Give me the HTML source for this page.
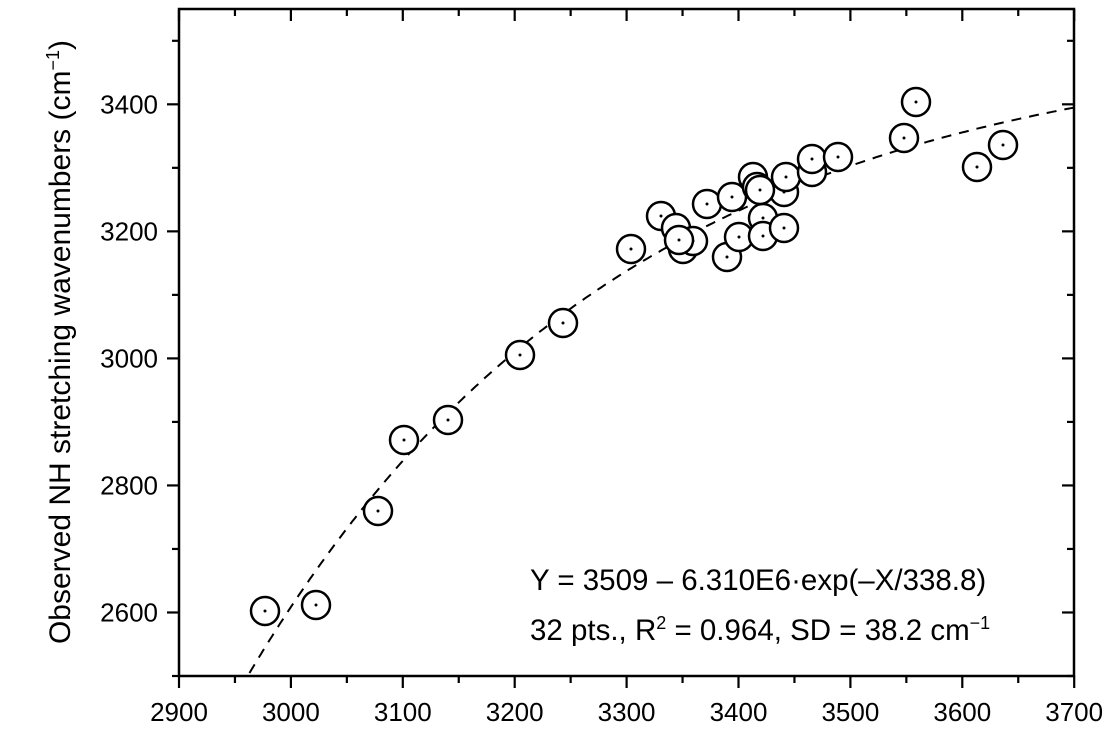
<!DOCTYPE html>
<html><head><meta charset="utf-8"><style>
html,body{margin:0;padding:0;background:#fff;}
svg{display:block;font-family:"Liberation Sans",Arial,sans-serif;}
</style></head><body>
<svg id="s" width="1114" height="735" viewBox="0 0 1114 735">
<rect x="179" y="9" width="895" height="667" fill="none" stroke="#000" stroke-width="2.5"/>
<g id="ticks" stroke="#000" stroke-width="2.2"></g>
<g id="lbl" font-size="26" fill="#000"></g>
<path id="fit" fill="none" stroke="#000" stroke-width="2" stroke-dasharray="10,8"/>
<g id="pts"></g>
<text x="0" y="0" font-size="30" transform="translate(70,342) rotate(-90)" text-anchor="middle">Observed NH stretching wavenumbers (cm<tspan dy="-11" font-size="18">−1</tspan><tspan dy="11">)</tspan></text>
<text x="530" y="590" font-size="29.5">Y = 3509 – 6.310E6·exp(–X/338.8)</text>
<text x="530" y="640" font-size="29.5">32 pts., R<tspan dy="-11" font-size="18">2</tspan><tspan dy="11"> = 0.964, SD = 38.2 cm</tspan><tspan dy="-11" font-size="18">−1</tspan></text>
</svg>
<script>
var NS="http://www.w3.org/2000/svg";
function px(x){return 179+(x-2900)*1.119;}
function py(y){return 676-(y-2500)*0.6352;}
function el(t,a,p){var e=document.createElementNS(NS,t);for(var k in a)e.setAttribute(k,a[k]);p.appendChild(e);return e;}
var T=document.getElementById('ticks'),L=document.getElementById('lbl');
for(var x=2900;x<=3700;x+=50){var X=px(x),maj=x%100==0;
 el('line',{x1:X,y1:676,x2:X,y2:676+(maj?12:7)},T);
 el('line',{x1:X,y1:9,x2:X,y2:9+(maj?12:7)},T);
 if(maj){var t=el('text',{x:X,y:721,'text-anchor':'middle'},L);t.textContent=x;}}
for(var y=2500;y<=3550;y+=100){var Y=py(y),maj=y%200==0;
 el('line',{x1:179,y1:Y,x2:179-(maj?12:7),y2:Y},T);
 el('line',{x1:1074,y1:Y,x2:1074-(maj?12:7),y2:Y},T);
 if(maj&&y>=2600&&y<=3400){var t=el('text',{x:158,y:Y+9,'text-anchor':'end'},L);t.textContent=y;}}
var d="";for(var x=2959;x<=3700;x+=2){var yy=3509-6.31e6*Math.exp(-x/338.8);if(yy<2500)continue;d+=(d?"L":"M")+px(x).toFixed(1)+","+py(yy).toFixed(1);}
document.getElementById('fit').setAttribute('d',d);
var P=[[265,611],[316,605],[378,511],[404,440],[448,420],[520,355],[563,323],[631,249],[661,216],[676,228],[683,249],[693,241],[707,204],[732,197],[727,257],[739,237],[753,177],[757,187],[763,218],[763,236],[784,228],[784,192],[786,177],[812,172],[812,159],[838,157],[904,138],[916,102],[977,167],[1003,145],[679,240],[760,190]];
var G=document.getElementById('pts');
P.forEach(function(p){el('circle',{cx:p[0],cy:p[1],r:14,fill:'#fff',stroke:'#000','stroke-width':2.5},G);el('circle',{cx:p[0],cy:p[1],r:1.5,fill:'#000'},G);});
</script>
</body></html>
